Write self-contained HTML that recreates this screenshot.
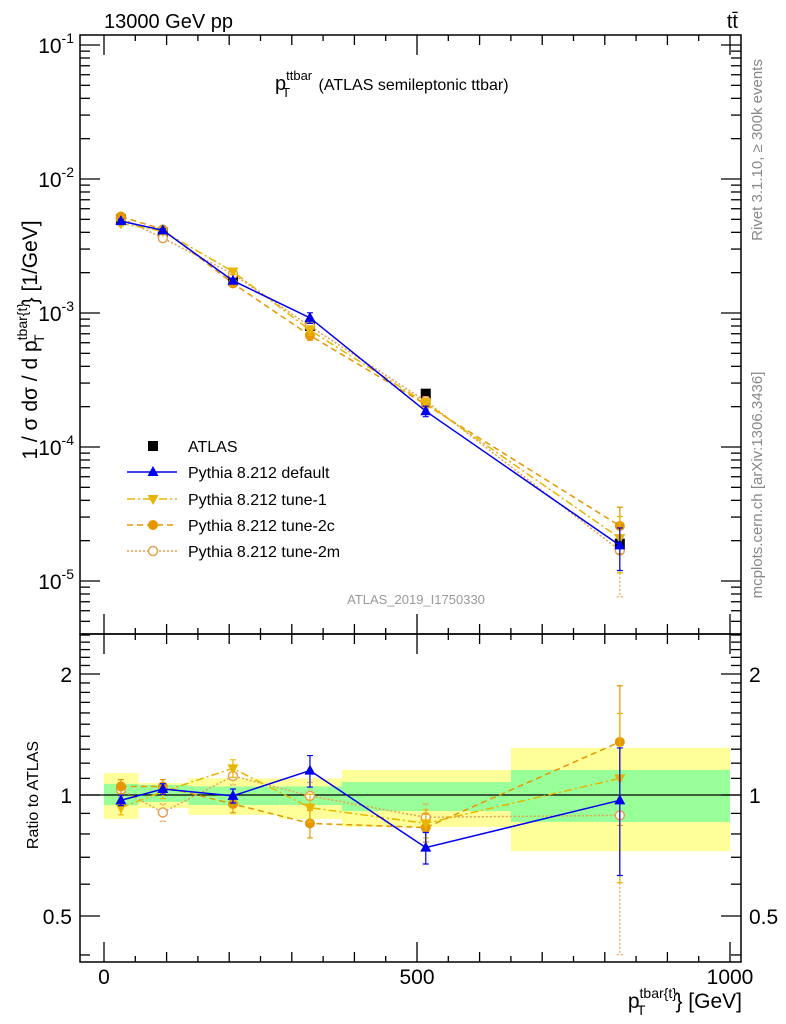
<!DOCTYPE html>
<html><head><meta charset="utf-8"><style>
body{margin:0;background:#fff;}
svg{display:block;font-family:"Liberation Sans",sans-serif;}
</style></head><body>
<svg id="chart" width="786" height="1024" viewBox="0 0 786 1024" xmlns="http://www.w3.org/2000/svg">
<g id="bands"></g><g id="grid"></g><g id="series"></g><g id="axes"></g>
<text x="104" y="28" font-size="20">13000 GeV pp</text>
<text x="738" y="28" font-size="20" text-anchor="end">tt̄</text>
<text x="275" y="90" font-size="20">p<tspan font-size="13" dy="-10">ttbar</tspan><tspan font-size="13" dx="-30" dy="17">T</tspan><tspan font-size="16" dx="24" dy="-7"> (ATLAS semileptonic ttbar)</tspan></text>
<text x="416" y="604" font-size="13" fill="#999" text-anchor="middle">ATLAS_2019_I1750330</text>
<text transform="translate(37,340) rotate(-90)" font-size="21" text-anchor="middle">1 / σ dσ / d p<tspan font-size="14" dy="-10">tbar{t}</tspan><tspan font-size="14" dx="-40" dy="17">T</tspan><tspan dx="30" dy="-7">} [1/GeV]</tspan></text>
<text transform="translate(38,795) rotate(-90)" font-size="16" text-anchor="middle">Ratio to ATLAS</text>
<text x="742" y="1008" font-size="21" text-anchor="end">p<tspan font-size="14" dy="-10">tbar{t}</tspan><tspan font-size="14" dx="-40" dy="17">T</tspan><tspan dx="30" dy="-7">} [GeV]</tspan></text>
<text transform="translate(762,150) rotate(-90)" font-size="15" fill="#888" text-anchor="middle">Rivet 3.1.10, ≥ 300k events</text>
<text transform="translate(762,485) rotate(-90)" font-size="15" fill="#888" text-anchor="middle">mcplots.cern.ch [arXiv:1306.3436]</text>
<g id="legend"></g>
</svg>
<script>
const binEdges=[0,55,135,280,380,650,1000];
const xPoints=[27,94,206,329,514,824];
const atlasValues=[5.0e-3,4.0e-3,1.75e-3,8.0e-4,2.5e-4,1.9e-5];
const bandStatUp=[1.066,1.059,1.05,1.05,1.077,1.154];
const bandStatDn=[0.943,0.961,0.944,0.944,0.912,0.857];
const bandTotUp=[1.134,1.071,1.10,1.10,1.154,1.31];
const bandTotDn=[0.872,0.928,0.892,0.872,0.833,0.725];
const ratioDefault=[0.97,1.035,0.995,1.15,0.74,0.97];
const ratioTune1=[0.93,1.02,1.165,0.93,0.85,1.10];
const ratioTune2c=[1.05,1.05,0.95,0.85,0.83,1.355];
const ratioTune2m=[1.03,0.905,1.115,0.995,0.88,0.89];
const relErrDefault=[0.03,0.03,0.04,0.09,0.09,0.35];
const relErrTune1=[0.04,0.04,0.05,0.08,0.08,0.45];
const relErrTune2c=[0.04,0.04,0.05,0.08,0.08,0.38];
const relErrTune2m=[0.04,0.05,0.05,0.08,0.08,0.55];
const xTicks=[0,500,1000];
const mainTicks=[1e-5,1e-4,1e-3,1e-2,1e-1];
const mainTickLabels=["10^-5","10^-4","10^-3","10^-2","10^-1"];
const ratioTicks=[0.5,1,2];
const ratioTickLabels=["0.5","1","2"];

const NS="http://www.w3.org/2000/svg";
const L=80,R=741,MT=35,MB=634,RT=634,RB=962;
const X=v=>104+v*0.626;
const YM=v=>45-134*(Math.log10(v)+1);
const YR=v=>795-402*Math.log10(v);
function mk(p,tag,at){const e=document.createElementNS(NS,tag);for(const k in at)e.setAttribute(k,at[k]);p.appendChild(e);return e;}
const gB=document.getElementById('bands'),gS=document.getElementById('series'),gA=document.getElementById('axes'),gL=document.getElementById('legend');

for(let i=0;i<6;i++){
 let r=mk(gB,'rect',{x:X(binEdges[i]),width:X(binEdges[i+1])-X(binEdges[i]),y:YR(bandTotUp[i]),height:YR(bandTotDn[i])-YR(bandTotUp[i]),fill:'#ffff99'});
 
 
 let g=mk(gB,'rect',{x:X(binEdges[i]),width:X(binEdges[i+1])-X(binEdges[i]),y:YR(bandStatUp[i]),height:YR(bandStatDn[i])-YR(bandStatUp[i]),fill:'#99ff99'});
 
 
}
let one=mk(gB,'line',{x1:L,x2:R,y1:YR(1),y2:YR(1),stroke:'#000','stroke-width':1.3});



function marker(p,type,x,y,col){
 if(type==='sq')return mk(p,'rect',{x:x-5,y:y-5,width:10,height:10,fill:'#000'});
 if(type==='up')return mk(p,'polygon',{points:`${x},${y-6} ${x-5.5},${y+4} ${x+5.5},${y+4}`,fill:col});
 if(type==='dn')return mk(p,'polygon',{points:`${x},${y+6} ${x-5.5},${y-4} ${x+5.5},${y-4}`,fill:col});
 if(type==='dot')return mk(p,'circle',{cx:x,cy:y,r:5,fill:col});
 return mk(p,'circle',{cx:x,cy:y,r:4.5,fill:'#fff',stroke:col,'stroke-width':1.5});
}
const series=[
 {name:'default',ratio:ratioDefault,err:relErrDefault,col:'#0000ee',dash:'',m:'up',label:'Pythia 8.212 default'},
 {name:'tune-1',ratio:ratioTune1,err:relErrTune1,col:'#e8b500',dash:'8,3,2,3',m:'dn',label:'Pythia 8.212 tune-1'},
 {name:'tune-2c',ratio:ratioTune2c,err:relErrTune2c,col:'#e69600',dash:'6,4',m:'dot',label:'Pythia 8.212 tune-2c'},
 {name:'tune-2m',ratio:ratioTune2m,err:relErrTune2m,col:'#e8a050',dash:'2,2',m:'open',label:'Pythia 8.212 tune-2m'}
];
// ATLAS data
atlasValues.forEach((v,i)=>{let m=marker(gS,'sq',X(xPoints[i]),YM(v));
 
 });
series.slice().reverse().forEach(s=>{
 const pm=s.ratio.map((r,i)=>[X(xPoints[i]),YM(r*atlasValues[i])]);
 const pr=s.ratio.map((r,i)=>[X(xPoints[i]),YR(r)]);
 [[pm,YM,true],[pr,YR,false]].forEach(([pts,Yf,main])=>{
  let pl=mk(gS,'polyline',{points:pts.map(p=>p.join(',')).join(' '),fill:'none',stroke:s.col,'stroke-width':1.5,'stroke-dasharray':s.dash});
  
  
  s.ratio.forEach((r,i)=>{
   const v=main?r*atlasValues[i]:r;const x=X(xPoints[i]);
   const y1=Yf(v*(1+s.err[i])),y2=Yf(Math.max(v*(1-s.err[i]),1e-9));
   let eb=mk(gS,'path',{d:`M${x},${y1}V${y2}M${x-3},${y1}h6M${x-3},${y2}h6`,stroke:s.col,'stroke-width':1.2,'stroke-dasharray':s.dash==='2,2'?'2,2':''});
   
   
   let m=marker(gS,s.m,x,Yf(v),s.col);
   
   
  });
 });
});
// frames
[[MT,MB],[RT,RB]].forEach(([t,b],k)=>{let f=mk(gA,'rect',{x:L,y:t,width:R-L,height:b-t,fill:'none',stroke:'#000','stroke-width':1.5});
 
 });
function tk(x1,y1,x2,y2){mk(gA,'line',{x1,y1,x2,y2,stroke:'#000','stroke-width':1.3});}
// main y ticks
for(let e=-6;e<=-1;e++){for(let k=1;k<10;k++){const v=k*Math.pow(10,e);const y=YM(v);if(y<MT||y>MB)continue;const len=k===1?20:10;tk(L,y,L+len,y);tk(R,y,R-len,y);}}
mainTicks.forEach((v,i)=>{const [b,ex]=mainTickLabels[i].split('^');let t=mk(gA,'text',{x:L-6,y:YM(v)+8,'font-size':21,'text-anchor':'end'});
 
 
 t.innerHTML=`${b}<tspan font-size="14" dy="-10">${ex}</tspan>`;});
// ratio y ticks
for(let v=0.4;v<2.55;v+=0.1){const y=YR(v);if(y<RT||y>RB)continue;const maj=[0.5,1,2].some(m=>Math.abs(m-v)<1e-6);const len=maj?20:10;tk(L,y,L+len,y);tk(R,y,R-len,y);}
ratioTicks.forEach((v,i)=>{[[L-8,'end'],[R+8,'start']].forEach(([x,a])=>{let t=mk(gA,'text',{x,y:YR(v)+8,'font-size':21,'text-anchor':a});
 
 
 t.textContent=ratioTickLabels[i];});});
// x ticks
for(let v=0;v<=1000;v+=50){const x=X(v);const maj=v%500===0;const len=maj?20:(v%100===0?10:6);tk(x,RB,x,RB-len);tk(x,RT,x,RT-len);tk(x,RT,x,RT+len);tk(x,MT,x,MT+len);}
xTicks.forEach(v=>{let t=mk(gA,'text',{x:X(v),y:RB+22,'font-size':21,'text-anchor':'middle'});
 
 
 t.textContent=v;});
// legend
const ly=[446,472,499,525,551];
let lm=marker(gL,'sq',153,ly[0]);


let lt=mk(gL,'text',{x:188,y:ly[0]+6,'font-size':16});lt.textContent='ATLAS';


series.forEach((s,i)=>{const y=ly[i+1];
 let ln=mk(gL,'line',{x1:127,x2:177,y1:y,y2:y,stroke:s.col,'stroke-width':1.5,'stroke-dasharray':s.dash});
 
 
 let m=marker(gL,s.m,153,y,s.col);
 
 
 let t=mk(gL,'text',{x:188,y:y+6,'font-size':16});t.textContent=s.label;
 
 
});
</script>
</body></html>
